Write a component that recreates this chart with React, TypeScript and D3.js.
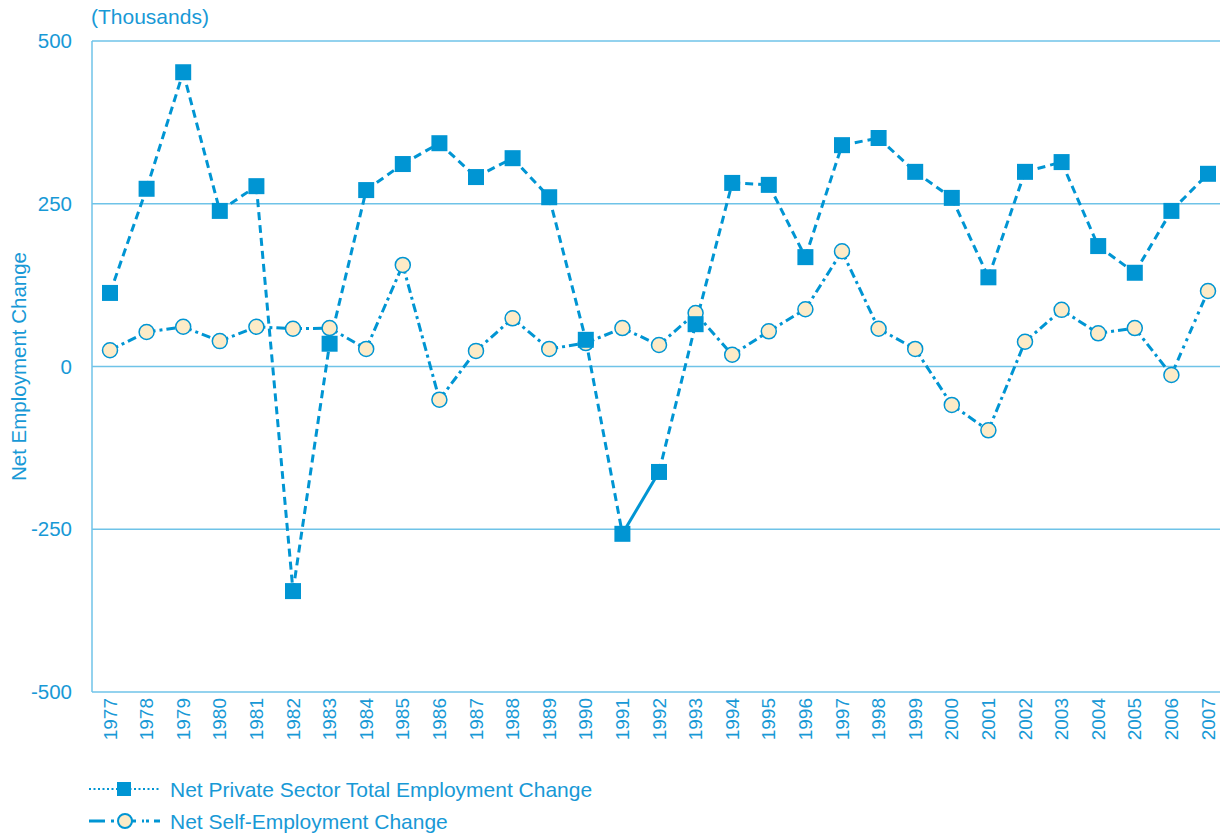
import React from "react";
import * as d3 from "d3";

const years = [1977,1978,1979,1980,1981,1982,1983,1984,1985,1986,1987,1988,1989,1990,1991,1992,1993,1994,1995,1996,1997,1998,1999,2000,2001,2002,2003,2004,2005,2006,2007];
const privateSector = [113,273,452,239,277,-345,35,271,311,343,291,320,260,41,-257,-162,65,282,279,168,340,351,299,259,137,299,314,185,144,239,296];
const selfEmployment = [25,53,61,39,61,58,59,27,156,-51,24,74,27,36,59,33,82,18,54,88,177,58,27,-59,-98,38,87,51,59,-13,116];
const yTicks = [500,250,0,-250,-500];

const BLUE = "#0095d3";
const GRID = "#6fc3e8";
const TEXT = "#1899d6";
const FILL = "#fdebc7";
const FONT = "Arial, 'Liberation Sans', sans-serif";

export default function App() {
  const W = 1220, H = 837;
  const left = 92, top = 41, bottom = 692, right = 1220;
  const x = d3.scalePoint<number>().domain(years).range([110, 1208]);
  const y = d3.scaleLinear().domain([-500, 500]).range([bottom, top]);
  const line = d3.line<[number, number]>().x(d => d[0]).y(d => d[1]);

  const segs = (vals: number[], styleFn: (i: number) => string) =>
    vals.slice(1).map((v, i) => {
      const p: [number, number][] = [[x(years[i])!, y(vals[i])], [x(years[i + 1])!, y(v)]];
      return <path key={i} d={line(p)!} fill="none" stroke={BLUE} strokeWidth={3} strokeDasharray={styleFn(i)} />;
    });

  return (
    <svg width={W} height={H} style={{ position: "absolute", left: 0, top: 0, fontFamily: FONT }}>
      {yTicks.map(t => (
        <g key={t}>
          <line x1={left} x2={right} y1={y(t)} y2={y(t)} stroke={GRID} strokeWidth={1.5} />
          <text x={72} y={y(t)} dy="0.35em" textAnchor="end" fontSize={20.5} fill={TEXT}>{t}</text>
        </g>
      ))}
      <line x1={left} x2={left} y1={top} y2={bottom} stroke={GRID} strokeWidth={1.5} />
      <text x={91} y={24} fontSize={21} fill={TEXT}>(Thousands)</text>
      <text transform={`translate(26,${(top + bottom) / 2}) rotate(-90)`} textAnchor="middle" fontSize={20.5} fill={TEXT}>Net Employment Change</text>
      {years.map(yr => (
        <text key={yr} transform={`translate(${x(yr)! + 6.5},${bottom + 6}) rotate(-90)`} textAnchor="end" fontSize={19} fill={TEXT}>{yr}</text>
      ))}
      {segs(selfEmployment, i => (i === 29 ? "3,5,3,5,8,5" : "9,4,3,4"))}
      {segs(privateSector, i => (i === 14 ? "none" : "8,5"))}
      {selfEmployment.map((v, i) => (
        <circle key={i} cx={x(years[i])} cy={y(v)} r={7.5} fill={FILL} stroke={BLUE} strokeWidth={1.5} />
      ))}
      {privateSector.map((v, i) => (
        <rect key={i} x={x(years[i])! - 8} y={y(v) - 8} width={16} height={16} fill={BLUE} />
      ))}
      <g>
        <line x1={89} x2={160} y1={789} y2={789} stroke={BLUE} strokeWidth={2} strokeDasharray="2,2.5" />
        <rect x={117} y={782} width={14} height={14} fill={BLUE} />
        <text x={170} y={790} dy="0.35em" fontSize={21} fill={TEXT}>Net Private Sector Total Employment Change</text>
        <line x1={89} x2={160} y1={821} y2={821} stroke={BLUE} strokeWidth={3} strokeDasharray="16,6,3,6" />
        <circle cx={125} cy={821} r={7} fill={FILL} stroke={BLUE} strokeWidth={2} />
        <line x1={144} x2={160} y1={821} y2={821} stroke={"white"} strokeWidth={4} />
        <line x1={146} x2={149} y1={821} y2={821} stroke={BLUE} strokeWidth={3} />
        <line x1={154} x2={160} y1={821} y2={821} stroke={BLUE} strokeWidth={3} />
        <text x={170} y={822} dy="0.35em" fontSize={21} fill={TEXT}>Net Self-Employment Change</text>
      </g>
    </svg>
  );
}
